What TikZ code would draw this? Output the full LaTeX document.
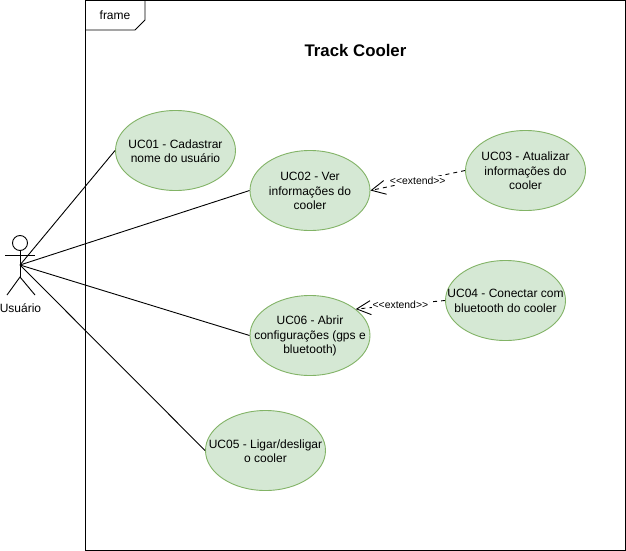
\documentclass[tikz,border=0pt]{standalone}
\usepackage{fontspec}
\setmainfont{Liberation Sans}
\usetikzlibrary{arrows.meta,shapes.geometric}
\definecolor{ucfill}{HTML}{D5E8D4}
\definecolor{ucline}{HTML}{82B366}
\tikzset{
  uc/.style={ellipse,draw=ucline,fill=ucfill,line width=0.9pt,minimum width=120pt,minimum height=80pt,inner sep=0pt},
  stroke/.style={draw=black,line width=0.9pt},
  assoc/.style={stroke},
  ext/.style={stroke,dash pattern=on 4pt off 4pt,-{Straight Barb[length=14pt,width=14pt,line width=0.9pt]}},
  extlabel/.style={fill=white,inner sep=1pt,font=\fontsize{10.4}{12}\selectfont},
  txt/.style={inner sep=0pt,align=center,font=\fontsize{12}{14.3}\selectfont}
}
\begin{document}
\begin{tikzpicture}[x=1pt,y=-1pt]
\useasboundingbox (0,0) rectangle (626,551);
\fill[white] (0,0) rectangle (626,551);
% frame
\coordinate (fA) at (85.5,0.5);
\coordinate (fB) at (625,550);
\draw[stroke] (fA) rectangle (fB);
\draw[stroke] (85.5,30) -- (135,30) -- (145,20) -- (145,0.5);
\node[txt] (frameLabel) at (115,15.5) {frame};
\node[inner sep=0pt,font=\bfseries\fontsize{16.8}{18}\selectfont] (title) at (355.5,50) {Track Cooler};
% actor
\node[circle,stroke,fill=white,minimum size=15pt,inner sep=0pt] (head) at (20,243) {};
\coordinate (hip) at (20,265);
\coordinate (crotch) at (20,277);
\coordinate (armL) at (5,255);
\coordinate (armR) at (35,255);
\coordinate (legL) at (7,295);
\coordinate (legR) at (35,295);
\draw[stroke] (head.south) -- (crotch);
\draw[stroke] (armL) -- (armR);
\draw[stroke] (legL) -- (crotch) -- (legR);
\node[txt] (actor) at (20.5,308.5) {Usuário};
% use cases
\node[uc] (uc1) at (175.5,150.5) {};
\node[txt] (uc1t) at (175.5,151) {UC01 - Cadastrar\\nome do usuário};
\node[uc] (uc2) at (310,190.5) {};
\node[txt] (uc2t) at (310,191) {UC02 - Ver\\informações do\\cooler};
\node[uc] (uc3) at (525.5,170.5) {};
\node[txt] (uc3t) at (525.5,171) {UC03 - Atualizar\\informações do\\cooler};
\node[uc] (uc4) at (505.5,300.5) {};
\node[txt] (uc4t) at (505.5,301) {UC04 - Conectar com\\bluetooth do cooler};
\node[uc] (uc6) at (310,335.5) {};
\node[txt] (uc6t) at (310,336) {UC06 - Abrir\\configurações (gps e\\bluetooth)};
\node[uc] (uc5) at (265.5,450.5) {};
\node[txt] (uc5t) at (265.5,451) {UC05 - Ligar/desligar\\o cooler};
% associations
\draw[assoc] (hip) -- (uc1.west);
\draw[assoc] (hip) -- (uc2.west);
\draw[assoc] (hip) -- (uc6.west);
\draw[assoc] (hip) -- (uc5.west);
% extends
\draw[ext] (uc3.west) -- node[extlabel,pos=0.5] {<{}<extend>{}>} (uc2.east);
\draw[ext] (uc4.west) -- node[extlabel,pos=0.5] {<{}<extend>{}>} (uc6.30);
\end{tikzpicture}
\end{document}
